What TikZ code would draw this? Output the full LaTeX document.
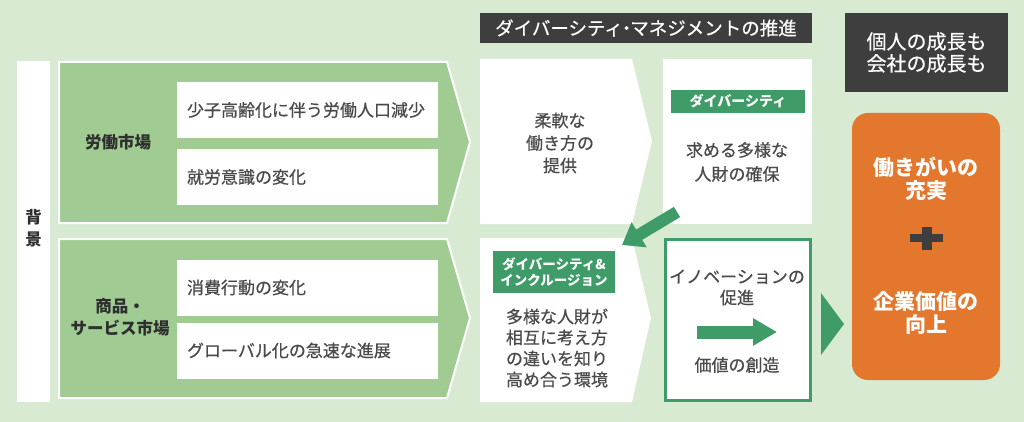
\documentclass[tikz,border=0pt]{standalone}
\usepackage{fontspec}
\setmainfont{Noto Sans CJK JP}
\newfontfamily\medfont[FakeBold=0.6]{Noto Sans CJK JP}
\usetikzlibrary{arrows.meta}
\definecolor{bggreen}{HTML}{D9EAD3}
\definecolor{midgreen}{HTML}{A0CB92}
\definecolor{deepgreen}{HTML}{3F9C69}
\definecolor{boxgray}{HTML}{3E3E3E}
\definecolor{txtgray}{HTML}{4A4A4A}
\definecolor{headgray}{HTML}{2E2E2E}
\definecolor{boxorange}{HTML}{E3772D}

\begin{document}
\begin{tikzpicture}[x=1pt, y=-1pt,
  rowbox/.style={fill=white, minimum width=261pt, minimum height=56pt, inner sep=0pt},
  rowtxt/.style={text=txtgray, font=\medfont\fontsize{17}{21}\selectfont, anchor=west, inner sep=0pt},
  head/.style={text=headgray, font=\bfseries\fontsize{16.5}{22}\selectfont, align=center, inner sep=0pt},
  body/.style={text=txtgray, font=\medfont\fontsize{17}{22.5}\selectfont, align=center, inner sep=0pt},
  tag/.style={fill=deepgreen, text=white, font=\bfseries\fontsize{14}{16}\selectfont, align=center, inner sep=0pt},
  darkbox/.style={fill=boxgray, text=white, align=center, inner sep=0pt},
  shout/.style={text=white, font=\bfseries\fontsize{21}{23}\selectfont, align=center, inner sep=0pt}]
\useasboundingbox[fill=bggreen] (0,0) rectangle (1024,422);
\fill[white] (17,61) rectangle (50,402);
\node[head] (bg) at (33.5,228) {背\\景};
\draw[white, line width=2pt, fill=midgreen] (59,62) -- (447,62) -- (470,142) -- (447,223) -- (59,223) -- cycle;
\draw[white, line width=2pt, fill=midgreen] (59,239) -- (447,239) -- (470,318) -- (447,398) -- (59,398) -- cycle;
\node[head] (labor) at (118,142) {労働市場};
\node[head] (goods) at (120,317) {商品・\\サービス市場};
\node[rowbox] (aging) at (307.5,110) {};
\node[rowbox] (aware) at (307.5,177) {};
\node[rowbox] (spend) at (307.5,287.5) {};
\node[rowbox] (global) at (307.5,350.5) {};
\node[rowtxt] (agingt) at ([xshift=10pt]aging.west) {少子高齢化に伴う労働人口減少};
\node[rowtxt] (awaret) at ([xshift=10pt]aware.west) {就労意識の変化};
\node[rowtxt] (spendt) at ([xshift=10pt]spend.west) {消費行動の変化};
\node[rowtxt] (globalt) at ([xshift=10pt]global.west) {グローバル化の急速な進展};
\node[darkbox, minimum width=332pt, minimum height=30pt, font=\medfont\fontsize{18.5}{20}\selectfont] (mgmt) at (646,28) {ダイバーシティ\kern-0.3em・\kern-0.3em マネジメントの推進};
\node[darkbox, minimum width=163pt, minimum height=79pt, font=\medfont\fontsize{20}{22}\selectfont] (growth) at (926.5,52.5) {個人の成長も\\会社の成長も};
\fill[white] (480,59) -- (632,59) -- (652,141) -- (632,224) -- (480,224) -- cycle;
\node[body] (flex) at (560,143) {柔軟な\\働き方の\\提供};
\fill[white] (663,59) rectangle (812,224);
\node[tag, minimum width=134pt, minimum height=23pt] (divtag) at (738,101.5) {ダイバーシティ};
\node[body, font=\medfont\fontsize{17}{24}\selectfont] (secure) at (737,162) {求める多様な\\人財の確保};
\fill[white] (480,238) -- (632,238) -- (651,318) -- (632,402) -- (480,402) -- cycle;
\node[tag, minimum width=122pt, minimum height=42pt, font=\bfseries\fontsize{13.5}{16}\selectfont] (ditag) at (554,272) {ダイバーシティ\&\\インクルージョン};
\node[body, font=\medfont\fontsize{17}{21}\selectfont] (mutual) at (557,348) {多様な人財が\\相互に考え方\\の違いを知り\\高め合う環境};
\node[draw=deepgreen, line width=3pt, fill=white, minimum width=145pt, minimum height=161pt] (innov) at (738,320) {};
\node[body, font=\medfont\fontsize{17}{21}\selectfont] (promote) at (737,287.5) {イノベーションの\\促進};
\node[body] (create) at (737,365) {価値の創造};
\coordinate (pa) at (697,332);
\coordinate (pb) at (777,332);
\draw[deepgreen, line width=13pt, -{Triangle[length=24pt, width=26pt]}] (pa) -- (pb);
\coordinate (ds) at (677,212);
\coordinate (de) at (622,245);
\draw[deepgreen, line width=12pt, -{Triangle[length=20pt, width=28pt]}] (ds) -- (de);
\fill[deepgreen] (821,293) -- (844,324) -- (821,355) -- cycle;
\node[fill=boxorange, rounded corners=16pt, minimum width=148pt, minimum height=267pt] (value) at (926,246.5) {};
\node[shout] (worth) at (926,178.5) {働きがいの\\充実};
\fill[boxgray] (910,234) rectangle (943,242);
\fill[boxgray] (922,227) rectangle (932,250);
\node[shout] (corp) at (926,312.5) {企業価値の\\向上};
\end{tikzpicture}
\end{document}
